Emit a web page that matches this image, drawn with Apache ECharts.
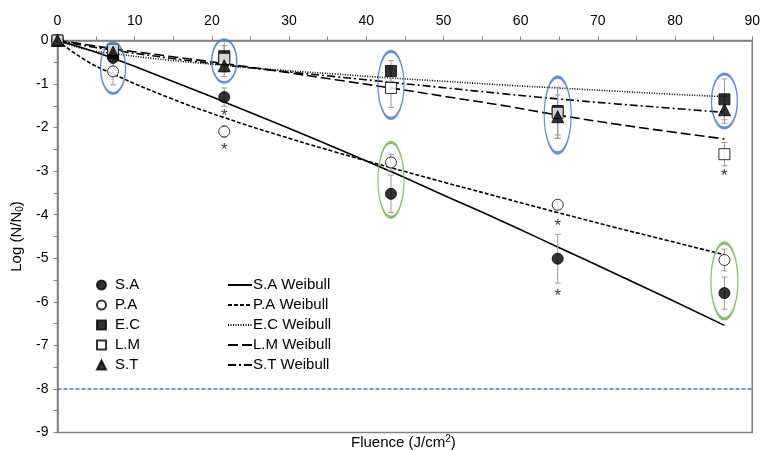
<!DOCTYPE html>
<html>
<head>
<meta charset="utf-8">
<script src="https://cdn.jsdelivr.net/npm/echarts@6/dist/echarts.min.js"></script>
<style>html,body{margin:0;padding:0;background:#fff;}#c{width:763px;height:450px;}</style>
</head>
<body>
<div id="c"></div>
<script>
// Fluence doses (J/cm2)
const doses = [0, 7.2, 21.6, 43.2, 64.8, 86.4];
// Measured log reductions (mean) per organism
const saVals = [0, -0.40, -1.30, -3.52, -5.01, -5.80];
const paVals = [0, -0.71, -2.09, -2.80, -3.77, -5.04];
const ecVals = [0, -0.25, -0.36, -0.70, -1.62, -1.35];
const lmVals = [0, -0.21, -0.42, -1.09, -1.66, -2.61];
const stVals = [0, -0.27, -0.58, null, -1.75, -1.59];
// Error bar half-widths
const saErr = [0, 0.08, 0.21, 0.43, 0.56, 0.37];
const paErr = [0, 0.31, 0.13, 0.19, 0.08, 0.25];
const ecErr = [0, 0.10, 0.36, 0.24, 0.55, 0.47];
const lmErr = [0, 0.10, 0.30, 0.45, 0.58, 0.27];
const stErr = [0, 0.08, 0.25, 0, 0.50, 0.31];
// Weibull fit curves, sampled fluence
const fitX = [0, 3.6, 7.2, 14.4, 21.6, 28.8, 36, 43.2, 50.4, 57.6, 64.8, 72, 79.2, 86.4];
const saFit = [0, -0.19, -0.41, -0.90, -1.41, -1.93, -2.46, -3.01, -3.58, -4.15, -4.74, -5.33, -5.93, -6.54];
const paFit = [0, -0.45, -0.77, -1.31, -1.77, -2.18, -2.56, -2.92, -3.27, -3.61, -3.95, -4.28, -4.60, -4.92];
const ecFit = [0, -0.20, -0.30, -0.45, -0.57, -0.68, -0.77, -0.86, -0.94, -1.02, -1.09, -1.16, -1.23, -1.29];
const lmFit = [0, -0.09, -0.19, -0.36, -0.53, -0.71, -0.90, -1.09, -1.29, -1.49, -1.71, -1.91, -2.09, -2.26];
const stFit = [0, -0.12, -0.22, -0.40, -0.56, -0.70, -0.83, -0.96, -1.09, -1.22, -1.34, -1.45, -1.55, -1.65];
// Significance asterisks
const starPts = [[21.6, -1.65], [21.6, -2.44], [64.8, -4.18], [64.8, -5.77], [86.4, -3.03]];
// Highlight ellipses: [x, yCenter, widthPx, heightPx]
const blueRings = [[7.2, -0.63, 25, 51], [21.6, -0.47, 25, 43], [43.2, -1.02, 26, 67], [64.8, -1.71, 27, 76], [86.4, -1.39, 26, 54]];
const greenRings = [[43.2, -3.2, 26, 75], [86.4, -5.52, 27, 76]];
const limitLine = -8;
const xTicks = {min: 0, max: 90, interval: 10};
const yTicks = {min: -9, max: 0, interval: 1};

const zip = (xs, ys) => xs.map((x, i) => [x, ys[i]]).filter(p => p[1] !== null);
const errData = [];
[[saVals, saErr], [paVals, paErr], [ecVals, ecErr], [lmVals, lmErr], [stVals, stErr]].forEach(([v, e]) => {
  doses.forEach((d, i) => { if (v[i] !== null && e[i] > 0) errData.push([d, v[i], e[i]]); });
});

const FONT = 'Liberation Sans, Arial, sans-serif';
const chart = echarts.init(document.getElementById('c'));

function fitLine(name, data, type) {
  return {name, type: 'line', data: zip(fitX, data), showSymbol: false, symbol: 'none', smooth: true,
    itemStyle: {color: '#000'},
    lineStyle: {color: '#000', width: 1.6, type}, z: 3, silent: true};
}
function pts(name, vals, symbol, fill, size) {
  return {name, type: 'scatter', data: zip(doses, vals), symbol, symbolSize: size,
    itemStyle: {color: fill, borderColor: '#000', borderWidth: 1}, z: 6};
}
function rings(data, color) {
  return {type: 'scatter', data: data.map(r => ({value: [r[0], r[1]], symbolSize: [r[2], r[3]]})),
    symbol: 'circle', itemStyle: {color: 'rgba(0,0,0,0)', borderColor: color, borderWidth: 2}, z: 8, silent: true};
}

chart.setOption({
  animation: false,
  grid: {left: 57.5, top: 40.5, width: 695.5, height: 392, show: true, borderColor: '#808080', borderWidth: 1.5},
  xAxis: {type: 'value', position: 'top', min: xTicks.min, max: xTicks.max, interval: xTicks.interval,
    axisLine: {show: true, lineStyle: {color: '#808080', width: 1.5}},
    axisTick: {show: true, length: 4, lineStyle: {color: '#808080'}},
    minorTick: {show: true, splitNumber: 2, length: 4, lineStyle: {color: '#808080'}},
    splitLine: {show: false},
    axisLabel: {color: '#000', fontSize: 14, fontFamily: FONT, margin: 12}},
  yAxis: {type: 'value', min: yTicks.min, max: yTicks.max, interval: yTicks.interval,
    axisLine: {show: true, lineStyle: {color: '#808080', width: 1.5}},
    axisTick: {show: true, length: 4, lineStyle: {color: '#808080'}},
    minorTick: {show: true, splitNumber: 2, length: 4, lineStyle: {color: '#808080'}},
    splitLine: {show: false},
    axisLabel: {color: '#000', fontSize: 14, fontFamily: FONT, margin: 9},
    name: 'Log (N/N{sub|0})', nameLocation: 'middle', nameGap: 32, nameRotate: 90,
    nameTextStyle: {color: '#000', fontSize: 15, fontFamily: FONT,
      rich: {sub: {fontSize: 10, verticalAlign: 'bottom', padding: [7, 0, 0, 0], fontFamily: FONT, color: '#000'}}}},
  graphic: [{type: 'text', left: 351, top: 434,
    style: {text: 'Fluence (J/cm{sup|2})', fill: '#000', font: '15px ' + FONT,
      rich: {sup: {fontSize: 10, verticalAlign: 'top', padding: [0, 0, 7, 0], fontFamily: FONT, fill: '#000'}}}}],
  legend: [
    {data: ['S.A', 'P.A', 'E.C', 'L.M', 'S.T'], orient: 'vertical', left: 91, top: 270, itemWidth: 9, itemHeight: 9,
      itemGap: 0, textStyle: {fontSize: 15, fontFamily: FONT, color: '#000', lineHeight: 20, padding: [0, 0, 0, 4]}, selectedMode: false},
    {data: ['S.A Weibull', 'P.A Weibull', 'E.C Weibull', 'L.M Weibull', 'S.T Weibull'], orient: 'vertical', left: 222, top: 270,
      itemWidth: 24, itemHeight: 9, itemGap: 0, itemStyle: {opacity: 0},
      textStyle: {fontSize: 15, fontFamily: FONT, color: '#000', lineHeight: 20, padding: [0, 0, 0, -4]}, selectedMode: false}
  ],
  series: [
    fitLine('S.A Weibull', saFit, 'solid'),
    fitLine('P.A Weibull', paFit, [4, 2]),
    fitLine('E.C Weibull', ecFit, [1, 1.5]),
    fitLine('L.M Weibull', lmFit, [10, 4]),
    fitLine('S.T Weibull', stFit, [8, 3, 2, 3]),
    {type: 'line', data: [], markLine: {silent: true, symbol: 'none', label: {show: false},
      lineStyle: {color: '#4472C4', type: [4, 2], width: 1.5}, data: [{yAxis: limitLine}]}},
    {type: 'custom', data: errData, z: 4, silent: true,
      renderItem: function (params, api) {
        const x = api.value(0), y = api.value(1), e = api.value(2);
        const top = api.coord([x, y + e]), bot = api.coord([x, y - e]);
        const w = 3;
        const st = {stroke: '#9a9a9a', lineWidth: 1};
        return {type: 'group', children: [
          {type: 'line', shape: {x1: top[0], y1: top[1], x2: bot[0], y2: bot[1]}, style: st},
          {type: 'line', shape: {x1: top[0] - w, y1: top[1], x2: top[0] + w, y2: top[1]}, style: st},
          {type: 'line', shape: {x1: bot[0] - w, y1: bot[1], x2: bot[0] + w, y2: bot[1]}, style: st}
        ]};
      }},
    pts('S.A', saVals, 'circle', '#000', 11),
    pts('P.A', paVals, 'circle', '#fff', 11),
    pts('E.C', ecVals, 'rect', '#000', 11),
    pts('L.M', lmVals, 'rect', '#fff', 11),
    pts('S.T', stVals, 'triangle', '#000', 12),
    {type: 'scatter', data: starPts, symbol: 'circle', symbolSize: 1, itemStyle: {color: 'rgba(0,0,0,0)'}, silent: true, z: 9,
      label: {show: true, position: 'inside', formatter: '*', color: '#000', fontSize: 17, fontFamily: FONT, offset: [0, 4]}},
    rings(blueRings, '#4472C4'),
    rings(greenRings, '#70AD47')
  ]
});
</script>
</body>
</html>
